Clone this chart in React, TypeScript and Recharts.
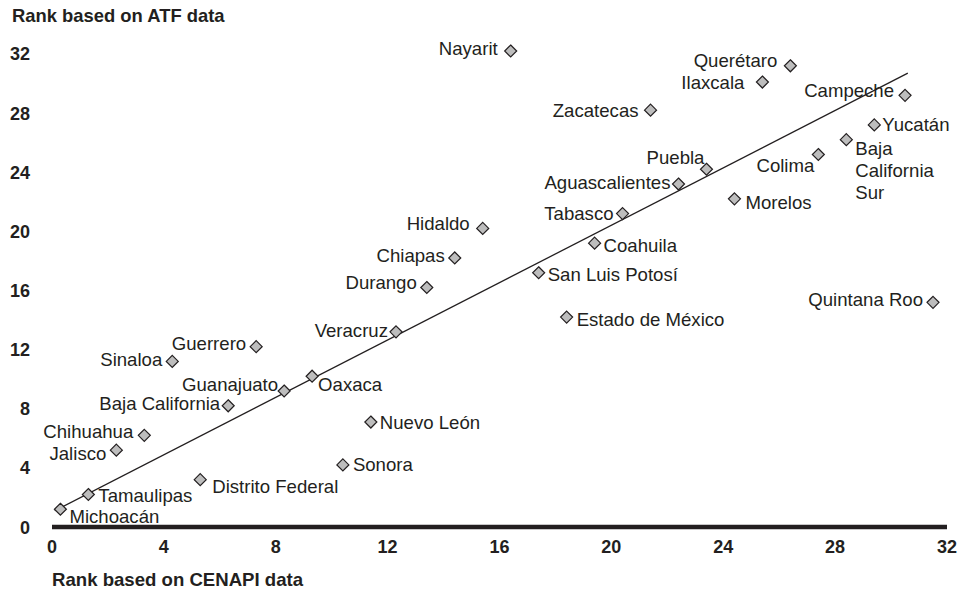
import { Label, ReferenceLine, Scatter, ScatterChart, XAxis, YAxis } from "recharts"

// #region Data
const states = [
  'Michoacán', 'Tamaulipas', 'Jalisco', 'Chihuahua', 'Sinaloa', 'Distrito Federal',
  'Baja California', 'Guerrero', 'Guanajuato', 'Oaxaca', 'Sonora', 'Nuevo León',
  'Veracruz', 'Durango', 'Chiapas', 'Hidaldo', 'Nayarit', 'San Luis Potosí',
  'Estado de México', 'Coahuila', 'Tabasco', 'Zacatecas', 'Aguascalientes', 'Puebla',
  'Morelos', 'Ilaxcala', 'Querétaro', 'Colima', 'Baja California Sur', 'Yucatán',
  'Campeche', 'Quintana Roo',
]
const cenapiRank = [
  0.3, 1.3, 2.3, 3.3, 4.3, 5.3, 6.3, 7.3, 8.3, 9.3, 10.4, 11.4, 12.3, 13.4, 14.4, 15.4,
  16.4, 17.4, 18.4, 19.4, 20.4, 21.4, 22.4, 23.4, 24.4, 25.4, 26.4, 27.4, 28.4, 29.4, 30.5, 31.5,
]
const atfRank = [
  1.2, 2.2, 5.2, 6.2, 11.2, 3.2, 8.2, 12.2, 9.2, 10.2, 4.2, 7.1, 13.2, 16.2, 18.2, 20.2,
  32.2, 17.2, 14.2, 19.2, 21.2, 28.2, 23.2, 24.2, 22.2, 30.1, 31.2, 25.2, 26.2, 27.2, 29.2, 15.2,
]
const axisTicks = [0, 4, 8, 12, 16, 20, 24, 28, 32]
const trendX = [0.1, 30.6]
const trendY = [1.1, 30.7]
// #endregion

const points = states.map((name, i) => ({ name, x: cenapiRank[i], y: atfRank[i] }))

const INK = '#231f20'
const FONT = '"Liberation Sans", Arial, Helvetica, sans-serif'

// where each name sits relative to its marker
const labelPlacement: Record<string, { dx: number; dy: number; anchor: 'start' | 'end'; wrap?: boolean }> = {
  'Nayarit': { dx: -13, dy: -3, anchor: 'end' },
  'Querétaro': { dx: -13, dy: -5, anchor: 'end' },
  'Ilaxcala': { dx: -18, dy: 0, anchor: 'end' },
  'Campeche': { dx: -11, dy: -5, anchor: 'end' },
  'Zacatecas': { dx: -12, dy: 0, anchor: 'end' },
  'Yucatán': { dx: 8, dy: 0, anchor: 'start' },
  'Baja California Sur': { dx: 9, dy: 9, anchor: 'start', wrap: true },
  'Colima': { dx: -4, dy: 11, anchor: 'end' },
  'Puebla': { dx: -2, dy: -12, anchor: 'end' },
  'Aguascalientes': { dx: -8, dy: -2, anchor: 'end' },
  'Morelos': { dx: 11, dy: 4, anchor: 'start' },
  'Tabasco': { dx: -9, dy: 0, anchor: 'end' },
  'Hidaldo': { dx: -13, dy: -5, anchor: 'end' },
  'Coahuila': { dx: 9, dy: 2, anchor: 'start' },
  'Chiapas': { dx: -10, dy: -2, anchor: 'end' },
  'San Luis Potosí': { dx: 9, dy: 2, anchor: 'start' },
  'Durango': { dx: -10, dy: -5, anchor: 'end' },
  'Estado de México': { dx: 10, dy: 2, anchor: 'start' },
  'Veracruz': { dx: -8, dy: -1, anchor: 'end' },
  'Quintana Roo': { dx: -10, dy: -3, anchor: 'end' },
  'Guerrero': { dx: -10, dy: -3, anchor: 'end' },
  'Sinaloa': { dx: -10, dy: -2, anchor: 'end' },
  'Guanajuato': { dx: -6, dy: -7, anchor: 'end' },
  'Oaxaca': { dx: 6, dy: 8, anchor: 'start' },
  'Baja California': { dx: -8, dy: -2, anchor: 'end' },
  'Nuevo León': { dx: 9, dy: 0, anchor: 'start' },
  'Chihuahua': { dx: -11, dy: -4, anchor: 'end' },
  'Jalisco': { dx: -10, dy: 3, anchor: 'end' },
  'Sonora': { dx: 10, dy: 0, anchor: 'start' },
  'Distrito Federal': { dx: 12, dy: 7, anchor: 'start' },
  'Tamaulipas': { dx: 10, dy: 1, anchor: 'start' },
  'Michoacán': { dx: 9, dy: 7, anchor: 'start' },
}

function StateMarker(props: any) {
  const { cx, cy, payload } = props
  const p = labelPlacement[payload.name] ?? { dx: 9, dy: 0, anchor: 'start' }
  const r = 6
  const lines: string[] = p.wrap ? payload.name.split(' ') : [payload.name]
  const tx = cx + p.dx
  return (
    <g>
      <polygon
        points={`${cx},${cy - r} ${cx + r},${cy} ${cx},${cy + r} ${cx - r},${cy}`}
        fill="#bdbdbd"
        stroke={INK}
        strokeWidth={1.2}
      />
      <text x={tx} y={cy + p.dy + 6.5} textAnchor={p.anchor} fontSize={18.6} fill={INK} fontFamily={FONT}>
        {lines.map((l, i) => (
          <tspan key={i} x={tx} dy={i === 0 ? 0 : 22}>{l}</tspan>
        ))}
      </text>
    </g>
  )
}

function XTick(props: any) {
  const { x, y, payload } = props
  return (
    <text x={x} y={y + 18} textAnchor="middle" fontSize={18} fontWeight="bold" fill={INK} fontFamily={FONT}>
      {payload.value}
    </text>
  )
}

function YTick(props: any) {
  const { y, payload } = props
  return (
    <text x={30} y={y + 6.5} textAnchor="end" fontSize={18} fontWeight="bold" fill={INK} fontFamily={FONT}>
      {payload.value}
    </text>
  )
}

export default function App() {
  return (
    <div style={{ position: 'absolute', left: 0, top: 0, width: 974, height: 591, background: '#fff' }}>
      <ScatterChart width={974} height={591} margin={{ top: 51, right: 27, bottom: 0, left: 0 }}>
        <XAxis
          type="number"
          dataKey="x"
          domain={[0, 32]}
          ticks={axisTicks}
          interval={0}
          height={64}
          tickLine={false}
          axisLine={{ stroke: INK, strokeWidth: 4.5 }}
          tick={<XTick />}
        >
          <Label
            content={() => (
              <text x={52} y={586} fontSize={18.6} fontWeight="bold" fill={INK} fontFamily={FONT}>
                Rank based on CENAPI data
              </text>
            )}
          />
        </XAxis>
        <YAxis
          type="number"
          dataKey="y"
          domain={[0, 32]}
          ticks={axisTicks}
          interval={0}
          width={52}
          tickLine={false}
          axisLine={false}
          tick={<YTick />}
        >
          <Label
            content={() => (
              <text x={12} y={22} fontSize={18.4} fontWeight="bold" fill={INK} fontFamily={FONT}>
                Rank based on ATF data
              </text>
            )}
          />
        </YAxis>
        <Scatter data={points} shape={<StateMarker />} isAnimationActive={false} />
        <ReferenceLine
          segment={[{ x: trendX[0], y: trendY[0] }, { x: trendX[1], y: trendY[1] }]}
          stroke={INK}
          strokeWidth={1.3}
          ifOverflow="visible"
        />
      </ScatterChart>
    </div>
  )
}
